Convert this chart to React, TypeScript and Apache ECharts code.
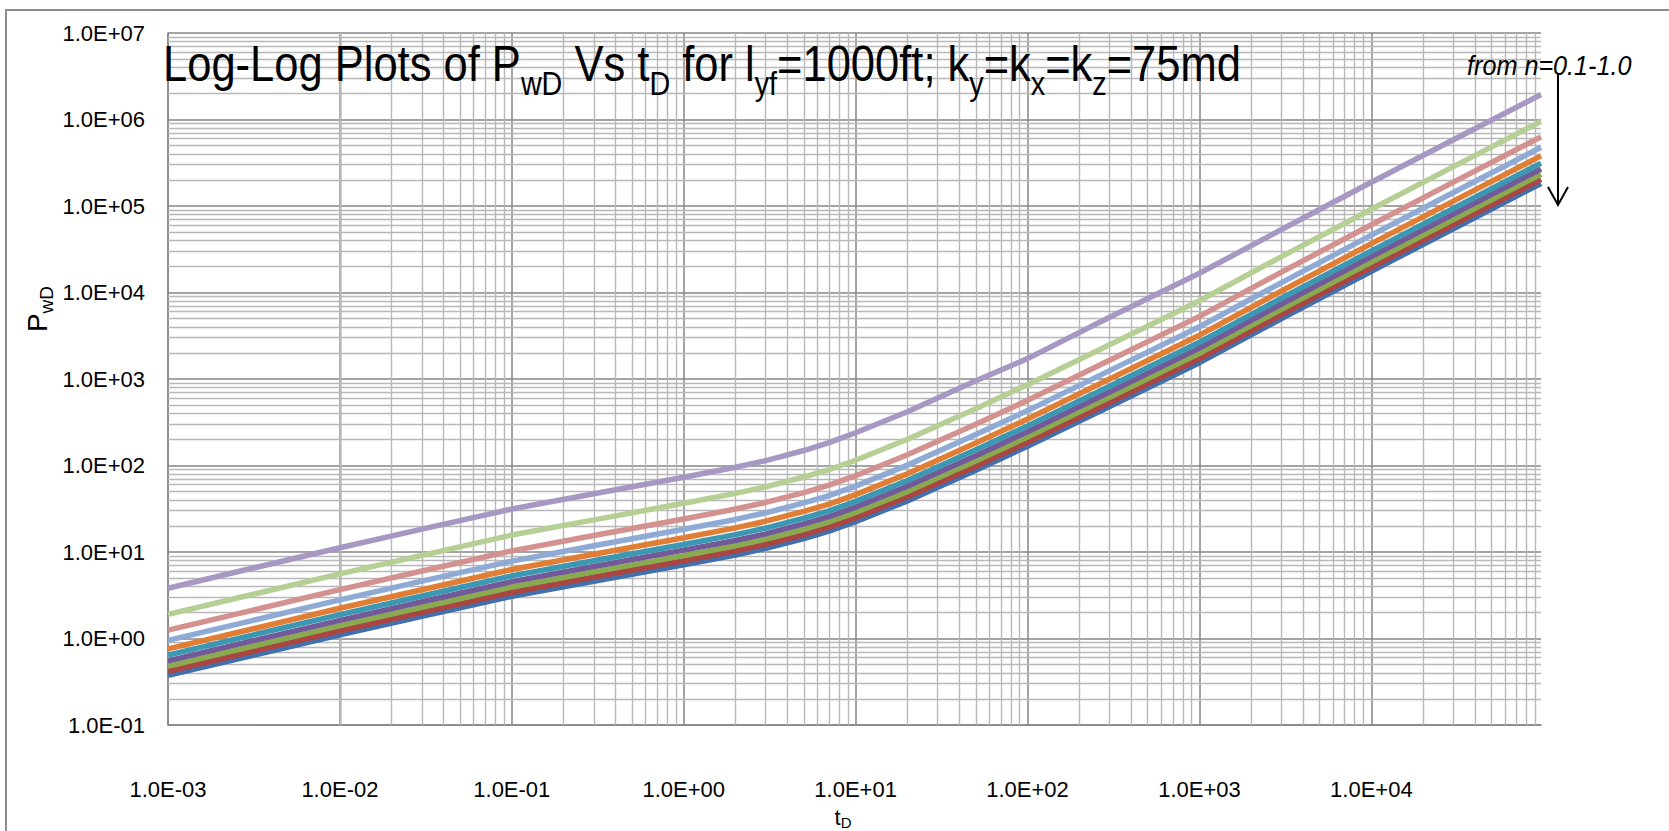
import React, { useEffect, useRef } from 'react';
import * as echarts from 'echarts';

// dimensionless time t_D (x) and dimensionless pressure P_wD (y), one list per n
const tD = [0.001, 0.003, 0.01, 0.03, 0.1, 0.3, 1, 2, 3, 5, 7, 10, 20, 50, 100, 300, 1000, 3000, 10000, 30000, 97000];

const pwD_n10 = [0.374, 0.627, 1.10, 1.80, 3.08, 4.60, 7.10, 9.24, 11.0, 14.3, 17.4, 22.4, 39.0, 88.2, 167, 480, 1545, 4990, 17600, 54600, 182000];
const pwD_n09 = [0.417, 0.699, 1.23, 2.01, 3.43, 5.13, 7.92, 10.3, 12.3, 15.9, 19.4, 25.0, 43.5, 98.3, 186, 535, 1720, 5560, 19600, 60900, 203000];
const pwD_n08 = [0.479, 0.803, 1.41, 2.30, 3.94, 5.89, 9.09, 11.8, 14.1, 18.3, 22.3, 28.7, 49.9, 113, 214, 614, 1980, 6390, 22500, 69900, 233000];
const pwD_n07 = [0.552, 0.925, 1.62, 2.66, 4.54, 6.79, 10.5, 13.6, 16.2, 21.1, 25.7, 33.0, 57.5, 130, 246, 708, 2280, 7360, 26000, 80500, 268000];
const pwD_n06 = [0.643, 1.08, 1.89, 3.10, 5.30, 7.91, 12.2, 15.9, 18.9, 24.6, 29.9, 38.5, 67.1, 152, 287, 826, 2660, 8580, 30300, 93900, 313000];
const pwD_n05 = [0.760, 1.27, 2.24, 3.66, 6.28, 9.43, 14.6, 19.0, 22.7, 29.5, 35.8, 46.1, 80.3, 182, 344, 998, 3210, 10400, 36700, 114000, 380000];
const pwD_n04 = [0.950, 1.59, 2.80, 4.60, 7.85, 11.8, 18.3, 23.8, 28.4, 36.9, 44.9, 57.8, 101, 228, 431, 1250, 4020, 13000, 46000, 143000, 477000];
const pwD_n03 = [1.25, 2.09, 3.67, 6.03, 10.3, 15.5, 24.1, 31.4, 37.4, 48.6, 59.2, 76.2, 133, 300, 568, 1650, 5300, 17200, 60700, 189000, 630000];
const pwD_n02 = [1.90, 3.18, 5.59, 9.14, 15.7, 23.5, 36.6, 47.6, 56.7, 73.6, 89.6, 115, 201, 454, 860, 2490, 8020, 26000, 91800, 285000, 950000];
const pwD_n01 = [3.81, 6.40, 11.2, 18.4, 31.4, 47.2, 73.0, 95.6, 114, 149, 184, 239, 419, 953, 1720, 5180, 16700, 53500, 188000, 583000, 1940000];

const seriesNames = ['n=1.0', 'n=0.9', 'n=0.8', 'n=0.7', 'n=0.6', 'n=0.5', 'n=0.4', 'n=0.3', 'n=0.2', 'n=0.1'];
const seriesValues = [pwD_n10, pwD_n09, pwD_n08, pwD_n07, pwD_n06, pwD_n05, pwD_n04, pwD_n03, pwD_n02, pwD_n01];
const seriesColors = ['#4170AC', '#AB4542', '#8AAA4F', '#72599A', '#3C98B2', '#E07E35', '#8EAAD5', '#D39190', '#B6CF95', '#A798C3'];

const xMin = 0.001;
const xMax = 97000;
const yMin = 0.1;
const yMax = 1e7;

const FONT = "'Liberation Sans', Arial, sans-serif";

const sci = (v: number) => {
  const e = Math.log10(v);
  const r = Math.round(e);
  if (Math.abs(e - r) > 1e-6) return '';
  const s = r < 0 ? '-' : '+';
  return `1.0E${s}${String(Math.abs(r)).padStart(2, '0')}`;
};

export default function App() {
  const ref = useRef<HTMLDivElement>(null);
  useEffect(() => {
    document.body.style.margin = '0';
    document.body.style.overflow = 'hidden';
    const chart = echarts.init(ref.current!, null, { renderer: 'svg' });

    const minorX: number[] = [];
    for (let e = -3; e <= 4; e++) for (let m = 2; m <= 9; m++) minorX.push(m * Math.pow(10, e));
    const minorY: number[] = [];
    for (let e = -1; e <= 6; e++) for (let m = 2; m <= 9; m++) minorY.push(m * Math.pow(10, e));

    const series: any[] = [
      {
        type: 'line',
        name: 'minor-grid',
        data: [[xMin, yMin]],
        symbol: 'none',
        lineStyle: { opacity: 0 },
        silent: true,
        z: 1,
        markLine: {
          silent: true,
          symbol: ['none', 'none'],
          label: { show: false },
          z: 1,
          animation: false,
          lineStyle: { color: '#b8b8b8', width: 1.4, type: 'solid' },
          emphasis: { disabled: true },
          data: [
            ...minorX.map((v) => ({ xAxis: v })),
            ...minorY.map((v) => ({ yAxis: v })),
          ],
        },
      },
    ];
    seriesValues.forEach((vals, i) => {
      series.push({
        type: 'line',
        name: seriesNames[i],
        data: tD.map((t, j) => [t, vals[j]]),
        symbol: 'none',
        smooth: false,
        z: 3,
        lineStyle: { width: 5.5, color: seriesColors[i] },
        itemStyle: { color: seriesColors[i] },
      });
    });

    const option: any = {
      animation: false,
      backgroundColor: '#ffffff',
      grid: { left: 168, top: 33, width: 1373, height: 692, containLabel: false },
      xAxis: {
        type: 'log',
        logBase: 10,
        min: xMin,
        max: xMax,
        axisLine: { show: true, lineStyle: { color: '#868686', width: 1.5 } },
        axisTick: { show: false },
        splitLine: { show: true, showMaxLine: false, lineStyle: { color: '#868686', width: 1.5 } },
        axisLabel: {
          margin: 53,
          fontSize: 22,
          fontFamily: FONT,
          color: '#000',
          showMaxLabel: false,
          formatter: (v: number) => sci(v),
        },
      },
      yAxis: {
        type: 'log',
        logBase: 10,
        min: yMin,
        max: yMax,
        axisLine: { show: true, lineStyle: { color: '#868686', width: 1.5 } },
        axisTick: { show: false },
        splitLine: { show: true, lineStyle: { color: '#868686', width: 1.5 } },
        axisLabel: {
          margin: 23,
          fontSize: 22,
          fontFamily: FONT,
          color: '#000',
          formatter: (v: number) => sci(v),
        },
      },
      series,
      graphic: [
        {
          type: 'rect',
          z: -10,
          silent: true,
          shape: { x: 6, y: 10, width: 1720, height: 900 },
          style: { fill: 'none', stroke: '#8c8c8c', lineWidth: 2 },
        },
        {
          type: 'text',
          x: 163,
          y: 37,
          scaleX: 0.87,
          z: 10,
          style: {
            text: '{m|Log-Log Plots of P}{s|wD}{m| Vs t}{s|D}{m| for l}{s|yf}{m|=1000ft; k}{s|y}{m|=k}{s|x}{m|=k}{s|z}{m|=75md}',
            align: 'left',
            verticalAlign: 'top',
            rich: {
              m: { fontSize: 50, lineHeight: 54, fontFamily: FONT, fill: '#000' },
              s: { fontSize: 33, lineHeight: 54, padding: [40, 0, 0, 0], fontFamily: FONT, fill: '#000' },
            },
          },
        },
        {
          type: 'text',
          x: 1467,
          y: 66,
          scaleX: 0.9,
          z: 10,
          style: {
            text: 'from n=0.1-1.0',
            fontSize: 28,
            fontStyle: 'italic',
            fontFamily: FONT,
            fill: '#000',
            align: 'left',
            verticalAlign: 'middle',
          },
        },
        {
          type: 'line',
          z: 10,
          shape: { x1: 1558, y1: 74, x2: 1558, y2: 204 },
          style: { stroke: '#000', lineWidth: 2 },
        },
        {
          type: 'polyline',
          z: 10,
          shape: { points: [[1548, 187], [1558, 205], [1568, 187]] },
          style: { stroke: '#000', lineWidth: 2, fill: 'none' },
        },
        {
          type: 'text',
          x: 37,
          y: 309,
          rotation: Math.PI / 2,
          z: 10,
          style: {
            text: '{m|P}{s|wD}',
            align: 'center',
            verticalAlign: 'middle',
            rich: {
              m: { fontSize: 28, lineHeight: 32, fontFamily: FONT, fill: '#000' },
              s: { fontSize: 19, lineHeight: 32, padding: [18, 0, 0, 0], fontFamily: FONT, fill: '#000' },
            },
          },
        },
        {
          type: 'text',
          x: 843,
          y: 817,
          z: 10,
          style: {
            text: '{m|t}{s|D}',
            align: 'center',
            verticalAlign: 'middle',
            rich: {
              m: { fontSize: 22, lineHeight: 24, fontFamily: FONT, fill: '#000' },
              s: { fontSize: 15, lineHeight: 24, padding: [10, 0, 0, 0], fontFamily: FONT, fill: '#000' },
            },
          },
        },
      ],
    };

    chart.setOption(option);
    return () => chart.dispose();
  }, []);
  return <div ref={ref} style={{ width: 1669, height: 831 }} />;
}
